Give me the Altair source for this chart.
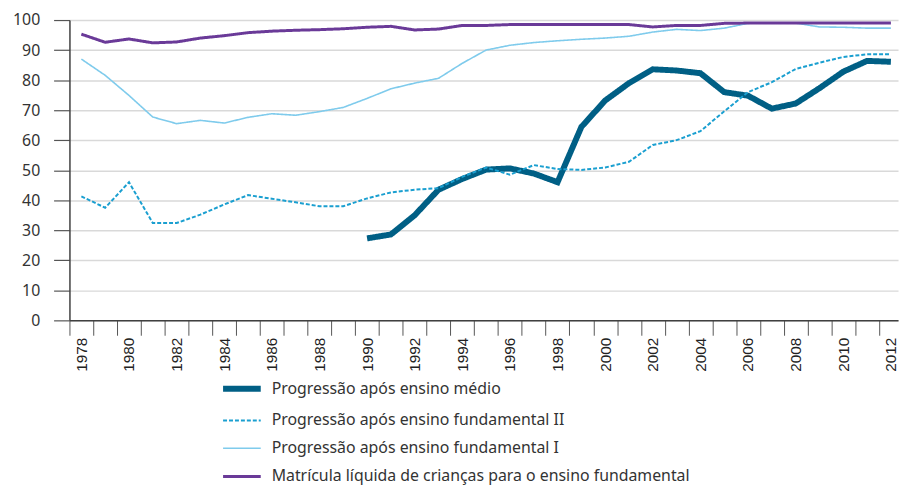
import altair as alt
import pandas as pd

years = list(range(1978, 2013))
series_names = [
    "Progressão após ensino médio",
    "Progressão após ensino fundamental II",
    "Progressão após ensino fundamental I",
    "Matrícula líquida de crianças para o ensino fundamental",
]
medio_years = list(range(1990, 2013))
medio = [27.3, 28.6, 35.0, 43.5, 47.1, 50.2, 50.6, 48.9, 46.0, 64.4, 73.2, 79.0,
         83.6, 83.2, 82.3, 76.0, 74.8, 70.5, 72.2, 77.3, 82.8, 86.4, 86.1]
fund2 = [41.3, 37.5, 46.0, 32.4, 32.4, 35.2, 38.6, 41.7, 40.5, 39.3,
         38.0, 38.0, 40.6, 42.6, 43.5, 44.0, 47.8, 50.9, 48.5, 51.7,
         50.4, 50.1, 50.9, 52.8, 58.4, 60.0, 63.0, 69.6, 76.0, 79.3,
         83.7, 85.8, 87.7, 88.6, 88.6]
fund1 = [87.0, 81.6, 74.9, 67.7, 65.5, 66.6, 65.7, 67.6, 68.8, 68.3,
         69.5, 70.9, 73.9, 77.1, 79.0, 80.6, 85.6, 90.0, 91.6, 92.5,
         93.1, 93.6, 94.0, 94.6, 96.0, 96.9, 96.5, 97.3, 98.9, 99.0,
         99.0, 97.7, 97.6, 97.3, 97.3]
matricula = [95.3, 92.6, 93.7, 92.4, 92.7, 94.0, 94.8, 95.8, 96.3, 96.6,
             96.8, 97.1, 97.6, 97.9, 96.7, 97.0, 98.2, 98.2, 98.5, 98.5,
             98.5, 98.5, 98.5, 98.5, 97.7, 98.2, 98.2, 98.9, 99.0, 99.0,
             99.0, 99.0, 99.0, 99.0, 99.0]
y_ticks = list(range(0, 101, 10))

rows = []
for yr, v in zip(medio_years, medio):
    rows.append({"ano": yr, "valor": v, "serie": series_names[0], "ord": 0})
for yr, v in zip(years, fund2):
    rows.append({"ano": yr, "valor": v, "serie": series_names[1], "ord": 1})
for yr, v in zip(years, fund1):
    rows.append({"ano": yr, "valor": v, "serie": series_names[2], "ord": 2})
for yr, v in zip(years, matricula):
    rows.append({"ano": yr, "valor": v, "serie": series_names[3], "ord": 3})
df = pd.DataFrame(rows)

colors = ["#005f85", "#1a9fd0", "#7fcbec", "#6a3a98"]
widths = [6, 2, 1.6, 3]
dashes = [[1, 0], [4, 2], [1, 0], [1, 0]]

# tick positions at the boundaries between years
x_values = [y - 0.5 for y in years]

legend_kw = dict(title=None, orient="none", legendX=152, legendY=350,
                 symbolType="stroke", symbolSize=1444,
                 labelFont="Noto Sans", labelFontSize=16,
                 labelColor="#333333", labelLimit=700,
                 rowPadding=-4.2, labelOffset=8)

chart = alt.Chart(df).mark_line(strokeCap="butt", strokeJoin="miter").encode(
    x=alt.X("ano:Q",
            scale=alt.Scale(domain=[1977.5, 2012.3], nice=False, zero=False),
            axis=alt.Axis(title=None, values=x_values,
                          labelExpr="(datum.value + 0.5) % 2 == 0 ? format(datum.value + 0.5, 'd') : ''",
                          labelAngle=-90, labelOverlap=False, labelFlush=False,
                          labelOffset=12,
                          grid=False, tickSize=15, tickColor="#555555",
                          domainColor="#404040", domainWidth=1.5,
                          labelFont="Liberation Sans", labelFontSize=15.5,
                          labelColor="#222222", labelPadding=2)),
    y=alt.Y("valor:Q",
            scale=alt.Scale(domain=[0, 100], nice=False),
            axis=alt.Axis(title=None, values=y_ticks, grid=True,
                          gridColor="#d9d9d9", gridWidth=1.5,
                          tickSize=16, tickColor="#555555", tickWidth=1.2,
                          domainColor="#404040", domainWidth=1.5,
                          labelFont="Noto Sans", labelFontSize=16,
                          labelColor="#333333", labelPadding=14)),
    color=alt.Color("serie:N",
                    scale=alt.Scale(domain=series_names, range=colors),
                    legend=alt.Legend(**legend_kw)),
    strokeWidth=alt.StrokeWidth("serie:N",
                                scale=alt.Scale(type="ordinal", domain=series_names, range=widths),
                                legend=alt.Legend(**legend_kw)),
    strokeDash=alt.StrokeDash("serie:N",
                              scale=alt.Scale(domain=series_names, range=dashes),
                              legend=alt.Legend(**legend_kw)),
    order=alt.Order("ord:Q"),
    detail="serie:N",
).properties(
    width=836, height=303,
    autosize=alt.AutoSizeParams(type="none"),
    padding={"left": 62, "top": 10, "right": 4, "bottom": 168},
    background="white",
).configure_view(stroke=None)

chart.save("out.html", embed_options={"renderer": "svg", "actions": False})
